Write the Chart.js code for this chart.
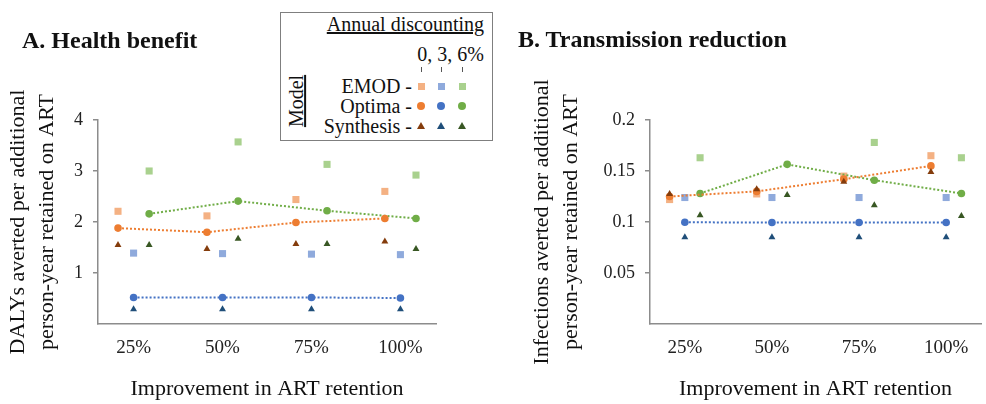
<!DOCTYPE html>
<html>
<head>
<meta charset="utf-8">
<script src="https://cdn.jsdelivr.net/npm/chart.js@4.4.1/dist/chart.umd.min.js"></script>
<style>
  body { margin: 0; background: #fff; }
  #wrap { position: relative; width: 986px; height: 404px; overflow: hidden;
          font-family: 'Liberation Serif', 'Times New Roman', serif; color: #111; }
  canvas { position: absolute; top: 0; }
  #chartA { left: 0; }
  #chartB { left: 500px; }
  .ptitle { position: absolute; font-weight: bold; font-size: 24px; white-space: nowrap; line-height: 28px; }
  #legendBox { position: absolute; left: 280px; top: 12px; width: 211px; height: 127px;
               border: 1px solid #7f7f7f; background: #fff; }
  .ltxt { position: absolute; font-size: 20px; line-height: 22px; white-space: nowrap; }
  .mk { position: absolute; }
</style>
</head>
<body>
<div id="wrap">
  <canvas id="chartA" width="490" height="404"></canvas>
  <canvas id="chartB" width="486" height="404"></canvas>
  <div class="ptitle" style="left:22px; top:26px;">A. Health benefit</div>
  <div class="ptitle" style="left:518px; top:25px;">B. Transmission reduction</div>
  <div id="legendBox"></div>
</div>
<script>
// categories and series
const categories = ['25%', '50%', '75%', '100%'];
const models = ['EMOD', 'Optima', 'Synthesis'];
const discountLabel = '0, 3, 6%';

// A. DALYs averted per additional person-year retained on ART (discount 0%, 3%, 6%)
const emodA0 = [2.21, 2.12, 2.44, 2.60];
const emodA3 = [1.39, 1.38, 1.37, 1.36];
const emodA6 = [3.00, 3.57, 3.13, 2.92];
const optimaA0 = [1.88, 1.80, 1.99, 2.07];
const optimaA3 = [0.52, 0.52, 0.52, 0.51];
const optimaA6 = [2.16, 2.41, 2.22, 2.07];
const synthA0 = [1.55, 1.47, 1.57, 1.62];
const synthA3 = [0.29, 0.29, 0.29, 0.29];
const synthA6 = [1.55, 1.67, 1.57, 1.47];

// B. Infections averted per additional person-year retained on ART
const emodB0 = [0.122, 0.1275, 0.145, 0.165];
const emodB3 = [0.124, 0.124, 0.124, 0.124];
const emodB6 = [0.163, null, 0.178, 0.163];
const optimaB0 = [0.125, 0.130, 0.142, 0.155];
const optimaB3 = [0.0997, 0.0995, 0.0995, 0.0995];
const optimaB6 = [0.128, 0.1565, 0.141, 0.128];
const synthB0 = [0.1275, 0.132, 0.1395, 0.149];
const synthB3 = [0.085, 0.085, 0.085, 0.085];
const synthB6 = [0.1065, 0.1265, 0.1165, 0.106];

// y tick labels
const yTicksA = [1, 2, 3, 4];
const yTickLabelsA = ['1', '2', '3', '4'];
const yTicksB = [0.05, 0.1, 0.15, 0.2];
const yTickLabelsB = ['0.05', '0.1', '0.15', '0.2'];

const colors = {
  EMOD: ['#F4B183', '#8FAADC', '#A9D18E'],
  Optima: ['#ED7D31', '#4472C4', '#70AD47'],
  Synthesis: ['#843C0C', '#1F4E79', '#385723']
};
const shapes = { EMOD: 'rect', Optima: 'circle', Synthesis: 'triangle' };
const radii = { EMOD: 5, Optima: 3.8, Synthesis: 4 };
const order = { EMOD: 2, Optima: 1, Synthesis: 0 };
const dodge = [-0.175, 0, 0.175];

const axisColor = '#8c8c8c';
const xTickFont = { family: 'Liberation Serif', size: 19 };
const yTickFont = { family: 'Liberation Serif', size: 18 };
const titleFont = { family: 'Liberation Serif', size: 22, lineHeight: 1.35 };

function buildDatasets(byModel) {
  const ds = [];
  models.forEach(m => {
    byModel[m].forEach((vals, d) => {
      const c = colors[m][d];
      ds.push({
        label: m + ' ' + d,
        data: vals.map((v, i) => ({ x: i + 1 + dodge[d], y: v })),
        pointStyle: shapes[m],
        pointRadius: radii[m],
        pointBackgroundColor: c,
        pointBorderWidth: 0,
        borderColor: c,
        borderWidth: 2,
        borderDash: [2, 2],
        showLine: m === 'Optima',
        order: order[m]
      });
    });
  });
  return ds;
}

function makeChart(id, cfg) {
  new Chart(document.getElementById(id), {
    type: 'scatter',
    data: { datasets: buildDatasets(cfg.series) },
    options: {
      responsive: false,
      animation: false,
      layout: { padding: { top: 120, right: cfg.padRight, bottom: 0, left: 0 } },
      plugins: { legend: { display: false }, tooltip: { enabled: false } },
      scales: {
        x: {
          type: 'linear', min: 0.6, max: 4.4,
          afterBuildTicks: axis => { axis.ticks = categories.map((c, i) => ({ value: i + 1 })); },
          afterFit: s => { s.height = 80; },
          ticks: { callback: v => categories[Math.round(v) - 1], font: xTickFont, color: '#222',
                   padding: 13, maxRotation: 0, autoSkip: false },
          grid: { drawOnChartArea: false, drawTicks: false },
          border: { color: axisColor, width: 1.5 },
          title: { display: true, text: 'Improvement in ART retention', font: titleFont,
                   color: '#111', padding: { top: 0, bottom: 0 } }
        },
        y: {
          min: 0, max: cfg.yMax,
          afterBuildTicks: axis => { axis.ticks = cfg.yTicks.map(v => ({ value: v })); },
          afterFit: s => { s.width = cfg.yWidth; },
          ticks: { callback: (v, i) => cfg.yTickLabels[i], font: yTickFont, color: '#222', padding: 10 },
          grid: { drawOnChartArea: false, drawTicks: true, tickLength: 5, color: axisColor, lineWidth: 1.5 },
          border: { color: axisColor, width: 1.5 },
          title: { display: true, text: cfg.yTitle, font: titleFont, color: '#111',
                   padding: { top: cfg.yTitlePad, bottom: 0 } }
        }
      }
    }
  });
}

makeChart('chartA', {
  series: {
    EMOD: [emodA0, emodA3, emodA6],
    Optima: [optimaA0, optimaA3, optimaA6],
    Synthesis: [synthA0, synthA3, synthA6]
  },
  yMax: 4, yTicks: yTicksA, yTickLabels: yTickLabelsA,
  yTitle: ['DALYs averted per additional', 'person-year retained on ART'],
  yWidth: 98, yTitlePad: 3, padRight: 54
});

makeChart('chartB', {
  series: {
    EMOD: [emodB0, emodB3, emodB6],
    Optima: [optimaB0, optimaB3, optimaB6],
    Synthesis: [synthB0, synthB3, synthB6]
  },
  yMax: 0.2, yTicks: yTicksB, yTickLabels: yTickLabelsB,
  yTitle: ['Infections averted per additional', 'person-year retained on ART'],
  yWidth: 150, yTitlePad: 27, padRight: 0
});

// legend (HTML overlay)
const wrap = document.getElementById('wrap');
function addText(txt, css) {
  const el = document.createElement('div');
  el.className = 'ltxt';
  el.textContent = txt;
  Object.assign(el.style, css);
  wrap.appendChild(el);
  return el;
}
function addMarker(shape, color, cx, cy) {
  const el = document.createElement('div');
  el.className = 'mk';
  if (shape === 'triangle') {
    Object.assign(el.style, { left: (cx - 4) + 'px', top: (cy - 4) + 'px', width: 0, height: 0,
      borderLeft: '4px solid transparent', borderRight: '4px solid transparent',
      borderBottom: '7px solid ' + color });
  } else {
    const s = shape === 'rect' ? 7 : 8;
    Object.assign(el.style, { left: (cx - s / 2) + 'px', top: (cy - s / 2) + 'px', width: s + 'px',
      height: s + 'px', background: color, borderRadius: shape === 'circle' ? '50%' : '0' });
  }
  wrap.appendChild(el);
}

addText('Annual discounting', { right: (986 - 484) + 'px', top: '13px', textDecoration: 'underline' });
addText(discountLabel, { right: (986 - 484) + 'px', top: '43px' });
const markerX = [421, 441, 462];
markerX.forEach(x => {
  const t = document.createElement('div');
  Object.assign(t.style, { position: 'absolute', left: (x - 0.5) + 'px', top: '67px', width: '1.5px',
    height: '5px', background: '#555' });
  wrap.appendChild(t);
});
const rowY = [86, 106, 126];
models.forEach((m, r) => {
  addText(m + ' -', { right: (986 - 412) + 'px', top: (rowY[r] - 11) + 'px' });
  colors[m].forEach((c, d) => addMarker(shapes[m], c, markerX[d], rowY[r]));
});
addText('Model', { left: '270px', top: '90px', transform: 'rotate(-90deg)', transformOrigin: '50% 50%',
  textDecoration: 'underline' });
</script>
</body>
</html>
